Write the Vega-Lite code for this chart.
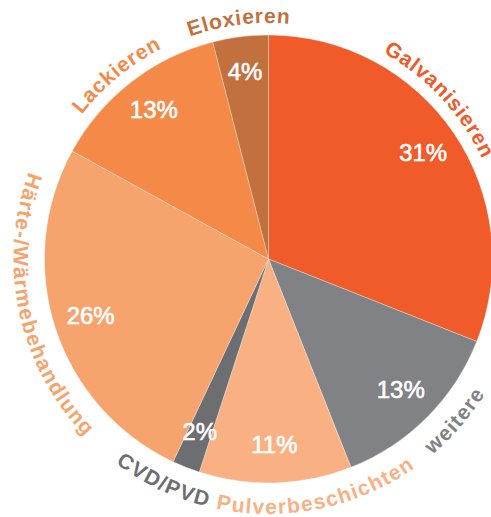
{
  "$schema": "https://vega.github.io/schema/vega-lite/v6.json",
  "width": 445,
  "height": 514,
  "autosize": {"type": "none"},
  "padding": {"left": 46, "top": 2, "right": 0, "bottom": 1},
  "background": "#ffffff",
  "view": {"stroke": null},
  "data": {
    "values": [
      {"cat": "Galvanisieren", "value": 31},
      {"cat": "weitere", "value": 13},
      {"cat": "Pulverbeschichten", "value": 11},
      {"cat": "CVD/PVD", "value": 2},
      {"cat": "Härte-/Wärmebehandlung", "value": 26},
      {"cat": "Lackieren", "value": 13},
      {"cat": "Eloxieren", "value": 4}
    ]
  },
  "transform": [{"window": [{"op": "row_number", "as": "idx"}]}],
  "layer": [
    {
      "mark": {"type": "arc", "outerRadius": 224, "stroke": "#ffffff", "strokeWidth": 0.6, "strokeOpacity": 0.5},
      "encoding": {
        "theta": {"field": "value", "type": "quantitative", "stack": true, "scale": {"domain": [0, 100]}},
        "color": {
          "field": "cat", "type": "nominal", "legend": null,
          "scale": {
            "domain": ["Galvanisieren", "weitere", "Pulverbeschichten", "CVD/PVD", "Härte-/Wärmebehandlung", "Lackieren", "Eloxieren"],
            "range": ["#F15A29", "#808285", "#F9B183", "#6D6E71", "#F6A36D", "#F58A48", "#C2703D"]
          }
        },
        "order": {"field": "idx", "type": "quantitative"}
      }
    },
    {
      "transform": [{"calculate": "datum.value + '%'", "as": "pct"}],
      "mark": {"type": "text", "radius": 187, "fill": "#ffffff", "stroke": "#ffffff", "strokeWidth": 0.6, "fontSize": 24, "font": "Liberation Sans", "align": "center", "baseline": "middle"},
      "encoding": {
        "theta": {"field": "value", "type": "quantitative", "stack": true, "scale": {"domain": [0, 100]}},
        "detail": {"field": "cat", "type": "nominal"},
        "order": {"field": "idx", "type": "quantitative"},
        "text": {"field": "pct", "type": "nominal"}
      }
    },
    {
      "transform": [
        {"stack": "value", "groupby": [], "sort": [{"field": "idx", "order": "ascending"}], "as": ["v0", "v1"]},
        {"calculate": "(datum.v0 + datum.v1) / 2", "as": "mid"},
        {"calculate": "(datum.mid > 25 && datum.mid < 75) ? -1 : 1", "as": "dir"},
        {"calculate": "datum.mid + (datum.cat == 'Galvanisieren' ? -2.45 : datum.cat == 'weitere' ? -1.1 : datum.cat == 'Pulverbeschichten' ? -2.7 : datum.cat == 'CVD/PVD' ? 1.05 : datum.cat == 'Härte-/Wärmebehandlung' ? 1.67 : datum.cat == 'Lackieren' ? -0.5 : 0)", "as": "center"},
        {"calculate": "datum.dir == 1 ? 242 : 249", "as": "R"},
        {"calculate": "split(datum.cat, '')", "as": "chars"},
        {"flatten": ["chars"], "as": ["ch"]},
        {"window": [{"op": "row_number", "as": "ci"}], "groupby": ["cat"]},
        {"calculate": "[778,556,278,556,611,278,556,556,778,389,333,667,611,611,556,611,722,667,722,278,667,556,611,611,556,722,556,333,944,889,611,611][indexof('GalvnisewrtPubchCVD/ExoLkHä-Wmdg', datum.ch)] * 21 / 1000 + 1.1", "as": "w"},
        {"window": [{"op": "sum", "field": "w", "as": "cumw"}], "groupby": ["cat"], "sort": [{"field": "ci", "order": "ascending"}], "frame": [null, 0]},
        {"joinaggregate": [{"op": "sum", "field": "w", "as": "tw"}], "groupby": ["cat"]},
        {"calculate": "datum.cumw - datum.w / 2 - datum.tw / 2", "as": "s"},
        {"calculate": "((datum.center + datum.dir * datum.s / (2 * PI * datum.R) * 100) + 100) % 100", "as": "pos"},
        {"calculate": "datum.dir == 1 ? datum.pos * 3.6 : datum.pos * 3.6 - 180", "as": "rot"}
      ],
      "mark": {"type": "text", "font": "Liberation Sans", "fontWeight": "bold", "fontSize": 21, "align": "center", "baseline": "middle"},
      "encoding": {
        "theta": {"field": "pos", "type": "quantitative", "stack": null, "scale": {"domain": [0, 100]}},
        "radius": {"field": "R", "type": "quantitative", "scale": null},
        "angle": {"field": "rot", "type": "quantitative", "scale": null},
        "text": {"field": "ch", "type": "nominal"},
        "detail": {"field": "ci", "type": "quantitative"},
        "color": {"field": "cat", "type": "nominal", "legend": null}
      }
    }
  ]
}
